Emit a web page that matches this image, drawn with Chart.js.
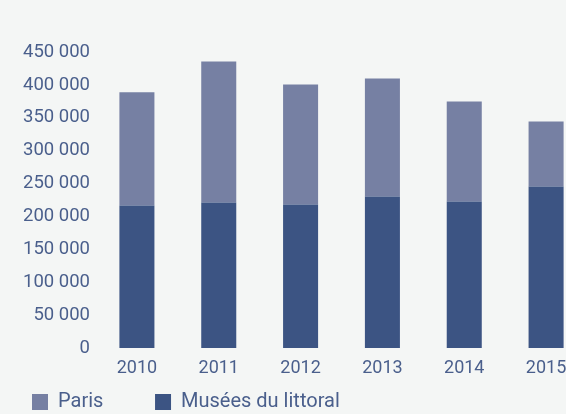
<!DOCTYPE html>
<html>
<head>
<meta charset="utf-8">
<script src="https://cdn.jsdelivr.net/npm/chart.js@4.4.1/dist/chart.umd.min.js"></script>
<style>
  html, body { margin: 0; padding: 0; background: #f4f6f5; overflow: hidden; }
  #wrap { width: 566px; height: 414px; overflow: hidden; position: relative; }
  #box { width: 600px; height: 414px; position: absolute; left: 0; top: 0; }
</style>
</head>
<body>
<div id="wrap"><div id="box"><canvas id="c"></canvas></div></div>
<script>
const years = ['2010', '2011', '2012', '2013', '2014', '2015'];
const museesLittoral = [216500, 221100, 218000, 230200, 222600, 245400];
const paris = [172400, 214500, 182600, 179500, 152100, 98900];
const yTicks = [0, 50000, 100000, 150000, 200000, 250000, 300000, 350000, 400000, 450000];

const textColor = '#4a5f8c';
const fontFamily = 'Roboto, "Liberation Sans", sans-serif';

function fmt(v) {
  return String(v).replace(/\B(?=(\d{3})+(?!\d))/g, ' ');
}

new Chart(document.getElementById('c'), {
  type: 'bar',
  data: {
    labels: years,
    datasets: [
      { label: 'Musées du littoral', data: museesLittoral, backgroundColor: '#3c5483' },
      { label: 'Paris' + '\u00a0'.repeat(8), data: paris, backgroundColor: '#7680a3' }
    ]
  },
  options: {
    responsive: true,
    maintainAspectRatio: false,
    animation: false,
    datasets: { bar: { barPercentage: 0.428, categoryPercentage: 1.0 } },
    layout: { padding: { left: 20, right: 13, top: 52, bottom: -8 } },
    plugins: {
      tooltip: { enabled: false },
      legend: {
        position: 'bottom',
        align: 'start',
        reverse: true,
        labels: {
          boxWidth: 16,
          boxHeight: 16,
          padding: 12,
          color: textColor,
          font: { family: fontFamily, size: 20 }
        }
      }
    },
    scales: {
      x: {
        stacked: true,
        grid: { display: false, drawTicks: false },
        border: { display: false },
        ticks: { color: textColor, padding: 10, font: { family: fontFamily, size: 18 } },
        afterFit: (s) => { s.height = 32; }
      },
      y: {
        stacked: true,
        min: 0,
        max: 450000,
        afterBuildTicks: (s) => { s.ticks = yTicks.map(v => ({ value: v })); },
        grid: { display: false, drawTicks: false },
        border: { display: false },
        ticks: {
          color: textColor,
          padding: 6,
          font: { family: fontFamily, size: 18.5 },
          callback: (v) => fmt(v)
        },
        afterFit: (s) => { s.width = 76; }
      }
    }
  }
});
</script>
</body>
</html>
